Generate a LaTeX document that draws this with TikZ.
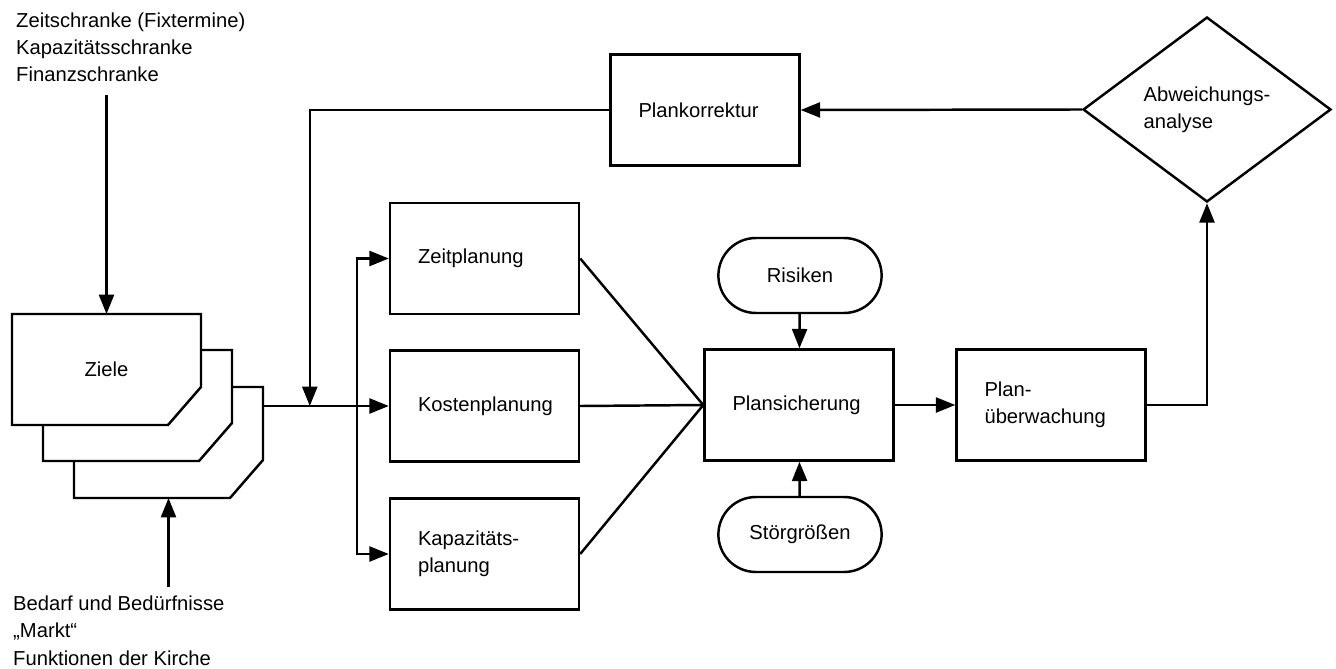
\documentclass[tikz,border=0pt]{standalone}
\usepackage{fontspec}
\setmainfont{Liberation Sans}
\usepackage{tikz}
\usetikzlibrary{calc,positioning,shapes.geometric,shapes.misc,arrows.meta}

\begin{document}
\begin{tikzpicture}[x=0.02cm, y=-0.02cm, line width=1.4pt,
  every node/.style={font=\fontsize{11.5}{15.5}\selectfont},
  arr/.style={-{Triangle[length=11pt,width=8.5pt]}}]
\tikzstyle{box}=[rectangle, draw, text width=2.66cm, align=left, inner xsep=0.56cm, minimum height=2.22cm]
\tikzstyle{card}=[rectangle, minimum width=3.78cm, minimum height=2.22cm, inner sep=0pt, outer sep=0pt]
\tikzstyle{stadium}=[rounded rectangle, draw, minimum width=3.5cm, minimum height=1.5cm]
\tikzstyle{raute}=[diamond, draw, align=left, minimum width=4.96cm, minimum height=3.7cm, inner sep=0pt]
\useasboundingbox (0,0) rectangle (1336,669);
% Zielkarten, hinten nach vorne
\foreach \i/\x/\y in {3/74/387, 2/43/350, 1/12/314}{
\draw[fill=white] (\x,\y) -- ++(189,0) -- ++(0,73) -- ++(-33,38) -- ++(-156,0) -- cycle;
\node[card] (card\i) at ({\x+94.5},{\y+55.5}) {};
}
\node (ziele) at (card1) {Ziele};
\node[align=left, anchor=base west, inner xsep=0pt, inner ysep=0.24cm] (schranken) at (15,82) {Zeitschranke (Fixtermine)\\Kapazitätsschranke\\Finanzschranke};
\node[align=left, anchor=base west, inner xsep=0pt, inner ysep=0.16cm] (markt) at (12,665) {Bedarf und Bedürfnisse\\„Markt“\\Funktionen der Kirche};
% Planung
\node[box] (zeit) at (484.5,258.5) {Zeitplanung};
\node[box] (kosten) at (484.5,406) {Kostenplanung};
\node[box] (kap) at (484.5,554) {Kapazitäts-\\planung};
\node[box] (korrektur) at (705,110) {Plankorrektur};
\node[box] (sicherung) at (799,405) {Plansicherung};
\node[box] (ueberw) at (1051,405) {Plan-\\überwachung};
\node[stadium] (risiken) at (800,275.5) {Risiken};
\node[stadium] (stoer) at (800,534.5) {Störgrößen};
\node[raute] (analyse) at (1207,109.5) {Abweichungs-\\analyse};
\path (kosten.west) ++(-32,0) coordinate (split);
\path (kosten.west) ++(-79,0) coordinate (merge);
% Verbindungen
\draw[arr] (schranken.south -| card1.north) -- (card1.north);
\draw[arr] (markt.north -| card3.south) -- (card3.south);
\draw[arr] (card3.east |- kosten.west) -- (kosten.west);
\draw[arr] (split) |- (zeit.west);
\draw[arr] (split) |- (kap.west);
\draw[arr] (korrektur.west) -| (merge);
\foreach \b in {zeit, kosten, kap}{
\draw (\b.east) -- (sicherung.west);
}
\draw[arr] (risiken) -- (sicherung);
\draw[arr] (stoer) -- (sicherung);
\draw[arr] (sicherung) -- (ueberw);
\draw[arr] (ueberw.east) -| (analyse.south);
\draw[arr] (analyse.west) -- (korrektur.east);
\end{tikzpicture}
\end{document}
